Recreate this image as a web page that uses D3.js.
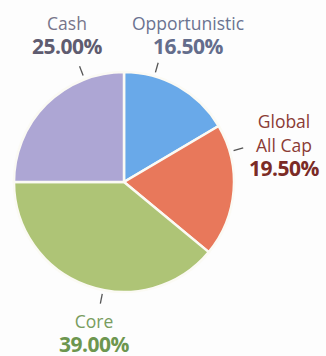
<!DOCTYPE html>
<html>
<head>
<meta charset="utf-8">
<script src="https://cdn.jsdelivr.net/npm/d3@7"></script>
<style>
  html, body { margin: 0; padding: 0; background: #fdfdfd; }
  svg { display: block; }
  text { font-family: "Open Sans", "Noto Sans", sans-serif; }
</style>
</head>
<body>
<div id="chart"></div>
<script>
// Allocation by sleeve, clockwise from 12 o'clock
const categories = ["Opportunistic", "Global\nAll Cap", "Core", "Cash"];
const shares = [16.5, 19.5, 39.0, 25.0];
const sliceColors = ["#69a9e9", "#e8785b", "#aec476", "#ada6d4"];
const nameColors = ["#6b7391", "#8b3b35", "#789c5e", "#77758a"];
const valueColors = ["#646d8c", "#7b2b26", "#6d964f", "#5f5c70"];

const width = 326, height = 356;
const cx = 124, cy = 182, radius = 110;

const svg = d3.select("#chart").append("svg")
  .attr("width", width).attr("height", height);

const pie = d3.pie().sort(null).value(d => d.value);
const arcs = pie(categories.map((c, i) => ({ name: c, value: shares[i], i })));
const arc = d3.arc().innerRadius(0).outerRadius(radius);

const g = svg.append("g").attr("transform", `translate(${cx},${cy})`);

g.selectAll("path.slice").data(arcs).enter().append("path")
  .attr("class", "slice")
  .attr("d", arc)
  .attr("fill", d => sliceColors[d.data.i])
  .attr("stroke", "#fbfaf4")
  .attr("stroke-width", 2.5);

// Leader tick directions (degrees clockwise from top) and label anchors
const labelLayout = [
  { ang: 16, tx: 188, ty: 30 },
  { ang: 74, tx: 284, ty: 128 },
  { ang: 191, tx: 94, ty: 328 },
  { ang: -21, tx: 67, ty: 30 }
];

const fmt = d3.format(".2f");

arcs.forEach(d => {
  const L = labelLayout[d.data.i];
  const a = L.ang * Math.PI / 180;
  const r0 = radius + 4, r1 = radius + 14;
  g.append("line")
    .attr("x1", r0 * Math.sin(a)).attr("y1", -r0 * Math.cos(a))
    .attr("x2", r1 * Math.sin(a)).attr("y2", -r1 * Math.cos(a))
    .attr("stroke", "#555")
    .attr("stroke-width", 1.3);

  const lines = d.data.name.split("\n");
  const t = svg.append("text")
    .attr("x", L.tx).attr("y", L.ty)
    .attr("text-anchor", "middle");
  lines.forEach((ln, k) => {
    t.append("tspan")
      .attr("x", L.tx)
      .attr("dy", k === 0 ? 0 : 24)
      .attr("font-size", 17.5)
      .attr("fill", nameColors[d.data.i])
      .text(ln);
  });
  t.append("tspan")
    .attr("x", L.tx)
    .attr("dy", 24)
    .attr("font-size", 21)
    .attr("font-weight", "bold")
    .attr("letter-spacing", -0.5)
    .attr("fill", valueColors[d.data.i])
    .text(fmt(d.data.value) + "%");
});
</script>
</body>
</html>
